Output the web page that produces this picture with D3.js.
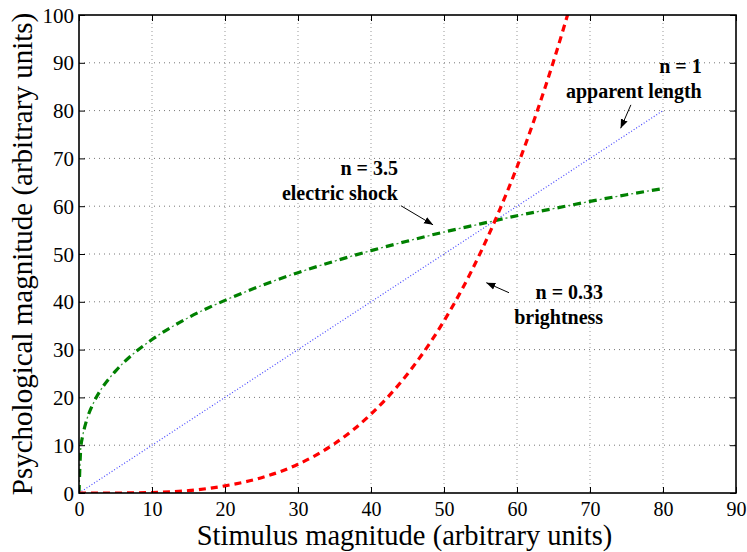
<!DOCTYPE html>
<html>
<head>
<meta charset="utf-8">
<script src="https://cdn.jsdelivr.net/npm/d3@7"></script>
<style>
  body { margin: 0; background: #fff; }
  svg text { font-family: "Liberation Serif", "Times New Roman", serif; }
</style>
</head>
<body>
<div id="viz"></div>
<script>
const width = 747,
    height = 552,
    margin = { top: 15, right: 11, bottom: 59, left: 79 },
    innerW = width - margin.left - margin.right,
    innerH = height - margin.top - margin.bottom,
    serif = "'Liberation Serif', 'Times New Roman', serif";

// values
const xTicks = [0, 10, 20, 30, 40, 50, 60, 70, 80, 90];
const yTicks = [0, 10, 20, 30, 40, 50, 60, 70, 80, 90, 100];

const lengthX = [0, 80];
const lengthY = [0, 80];

const shockX = [0, 5, 10, 15, 20, 25, 30, 35, 40, 45, 50, 52.5, 55, 57.5, 60, 62.5, 65, 67.5];
const shockY = [0, 0, 0.1, 0.5, 1.5, 3.2, 6.0, 10.3, 16.5, 24.9, 36.0, 42.7, 50.3, 58.8, 68.2, 78.7, 90.3, 103];

const brightX = [0, 0.25, 0.5, 1, 2, 3, 5, 7.5, 10, 15, 20, 25, 30, 35, 40, 45, 50, 55, 60, 65, 70, 75, 80];
const brightY = [0, 9.5, 11.9, 15.0, 18.9, 21.6, 25.5, 29.2, 32.1, 36.7, 40.3, 43.4, 46.1, 48.5, 50.7, 52.7, 54.6, 56.3, 58.0, 59.5, 61.0, 62.4, 63.7];

const labels = [
    { lines: ["n = 1", "apparent length"], x: 85.3, y: 87.9, from: [75.6, 81.2], to: [74.2, 76.3] },
    { lines: ["n = 3.5", "electric shock"], x: 43.7, y: 66.5, from: [44.1, 60.1], to: [48.5, 56.1] },
    { lines: ["n = 0.33", "brightness"], x: 71.8, y: 40.6, from: [58.9, 41.9], to: [55.8, 44.0] }
];

const svg = d3.select("#viz").append("svg")
    .attr("width", width)
    .attr("height", height);

const g = svg.append("g")
    .attr("transform", "translate(" + margin.left + "," + margin.top + ")");

const x = d3.scaleLinear().domain([0, 90]).range([0, innerW]);
const y = d3.scaleLinear().domain([0, 100]).range([innerH, 0]);

const defs = svg.append("defs");
defs.append("clipPath").attr("id", "plotclip")
    .append("rect").attr("width", innerW).attr("height", innerH);

defs.append("marker")
    .attr("id", "arrow")
    .attr("viewBox", "0 -5 10 10")
    .attr("refX", 10).attr("refY", 0)
    .attr("markerWidth", 9).attr("markerHeight", 9)
    .attr("markerUnits", "userSpaceOnUse")
    .attr("orient", "auto")
    .append("path").attr("d", "M0,-4L10,0L0,4Z").attr("fill", "#000");

// grid
g.append("g").selectAll("line")
    .data(xTicks.slice(1, -1))
    .enter().append("line")
    .attr("x1", d => x(d)).attr("x2", d => x(d))
    .attr("y1", 0).attr("y2", innerH)
    .attr("stroke", "#999").attr("stroke-width", 1)
    .attr("stroke-dasharray", "1,3");

g.append("g").selectAll("line")
    .data(yTicks.slice(1, -1))
    .enter().append("line")
    .attr("y1", d => y(d)).attr("y2", d => y(d))
    .attr("x1", 0).attr("x2", innerW)
    .attr("stroke", "#777").attr("stroke-width", 1)
    .attr("stroke-dasharray", "1,4");

// curves
const line = d3.line()
    .x(d => x(d[0]))
    .y(d => y(d[1]))
    .curve(d3.curveMonotoneX);

const plot = g.append("g").attr("clip-path", "url(#plotclip)");

plot.append("path")
    .datum(d3.zip(lengthX, lengthY))
    .attr("d", line)
    .attr("fill", "none")
    .attr("stroke", "#4a4aff")
    .attr("stroke-width", 1.2)
    .attr("stroke-dasharray", "1,2");

// dash-dot: thick dashes plus thin dots between them
const bright = d3.zip(brightX, brightY);
plot.append("path")
    .datum(bright)
    .attr("d", line)
    .attr("fill", "none")
    .attr("stroke", "#008000")
    .attr("stroke-width", 3.2)
    .attr("stroke-dasharray", "8,8");
plot.append("path")
    .datum(bright)
    .attr("d", line)
    .attr("fill", "none")
    .attr("stroke", "#3a9a3a")
    .attr("stroke-width", 1.3)
    .attr("stroke-dasharray", "2,14")
    .attr("stroke-dashoffset", 5);

plot.append("path")
    .datum(d3.zip(shockX, shockY))
    .attr("d", line)
    .attr("fill", "none")
    .attr("stroke", "#ff0000")
    .attr("stroke-width", 3.2)
    .attr("stroke-dasharray", "7,5");

// axes
const xAxis = d3.axisBottom(x).tickValues(xTicks).tickSizeInner(-6).tickSizeOuter(0).tickPadding(9);
const yAxis = d3.axisLeft(y).tickValues(yTicks).tickSizeInner(-6).tickSizeOuter(0).tickPadding(5);

const gx = g.append("g").attr("transform", "translate(0," + innerH + ")").call(xAxis);
const gy = g.append("g").call(yAxis);
g.append("g").call(d3.axisTop(x).tickValues(xTicks).tickSizeInner(-6).tickSizeOuter(0).tickFormat(""));
g.append("g").attr("transform", "translate(" + innerW + ",0)")
    .call(d3.axisRight(y).tickValues(yTicks).tickSizeInner(-6).tickSizeOuter(0).tickFormat(""));

g.selectAll(".domain").remove();
g.selectAll(".tick line").attr("stroke", "#000").attr("stroke-width", 1);

gx.selectAll("text")
    .style("font-family", serif)
    .style("font-size", "20px")
    .attr("fill", "#000");
gy.selectAll("text")
    .style("font-family", serif)
    .style("font-size", "21px")
    .attr("fill", "#000")
    .attr("dy", "0.34em");

g.append("rect")
    .attr("width", innerW).attr("height", innerH)
    .attr("fill", "none").attr("stroke", "#000").attr("stroke-width", 1.6);

// annotations
labels.forEach(function (d) {
    const t = g.append("text")
        .attr("text-anchor", "end")
        .style("font-family", serif)
        .style("font-weight", "bold")
        .style("font-size", "20px")
        .attr("fill", "#000");
    d.lines.forEach(function (s, i) {
        t.append("tspan")
            .attr("x", x(d.x))
            .attr("y", y(d.y) + i * 25)
            .text(s);
    });
    g.append("line")
        .attr("x1", x(d.from[0])).attr("y1", y(d.from[1]))
        .attr("x2", x(d.to[0])).attr("y2", y(d.to[1]))
        .attr("stroke", "#000").attr("stroke-width", 1)
        .attr("marker-end", "url(#arrow)");
});

// axis titles
svg.append("text")
    .attr("x", margin.left + innerW / 2 - 3)
    .attr("y", 545)
    .attr("text-anchor", "middle")
    .style("font-family", serif)
    .style("font-size", "28.5px")
    .text("Stimulus magnitude (arbitrary units)");

svg.append("text")
    .attr("transform", "translate(32," + (margin.top + innerH / 2) + ") rotate(-90)")
    .attr("text-anchor", "middle")
    .style("font-family", serif)
    .style("font-size", "29px")
    .text("Psychological magnitude (arbitrary units)");
</script>
</body>
</html>
